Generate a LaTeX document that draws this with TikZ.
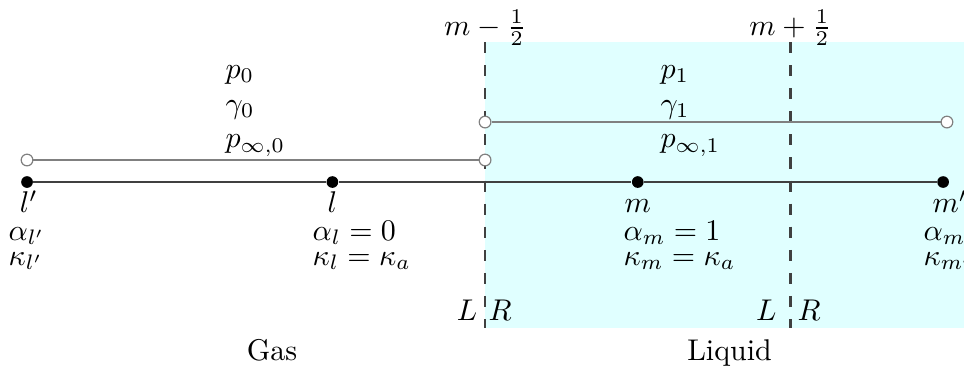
\documentclass[tikz,border=0pt]{standalone}
\usepackage{amsmath}
\usepackage{tikz}

\definecolor{liquidcyan}{RGB}{224,255,255}

\begin{document}
\begin{tikzpicture}[
	c_axis/.style={
		black!75,
		line width=0.7pt
	},
	c_state/.style={
		gray,
		line width=0.4pt
	},
	c_face/.style={
		black!75,
		line width=0.75pt,
		dash pattern=on 3.7pt off 4pt
	},
	c_dot/.style={
		circle,
		fill=black,
		inner sep=0pt,
		minimum size=3.9pt
	},
	c_open/.style={
		circle,
		draw=gray,
		fill=white,
		line width=0.4pt,
		inner sep=0pt,
		minimum size=3.9pt
	},
	c_name/.style={
		inner sep=0pt,
		anchor=base
	},
	c_text/.style={
		inner sep=0pt,
		anchor=base west
	}
	]
	
	% =========================================================================
	% FRAME AND LIQUID REGION
	% =========================================================================
	
	\clip (-0.317,-2.204) rectangle (10.985,2.134);
	
	\fill[liquidcyan]
	(5.37,-1.712) rectangle (11.5,1.641);
	
	% =========================================================================
	% CELL FACES
	% =========================================================================
	
	\coordinate (f0t) at (5.37,1.641);
	\coordinate (f0b) at (5.37,-1.712);
	\coordinate (f1t) at (8.95,1.641);
	\coordinate (f1b) at (8.95,-1.712);
	
	\draw[c_face] (f0t)--(f0b);
	\draw[c_face] (f1t)--(f1b);
	
	\node (hm) at (5.37,1.805) {$m-\frac{1}{2}$};
	\node (hp) at (8.95,1.805) {$m+\frac{1}{2}$};
	
	\node[inner sep=0pt,anchor=base east] (L0) at (5.287,-1.618) {$L$};
	\node[c_text] (R0) at (5.404,-1.618) {$R$};
	\node[inner sep=0pt,anchor=base east] (L1) at (8.793,-1.618) {$L$};
	\node[c_text] (R1) at (9.027,-1.618) {$R$};
	
	% =========================================================================
	% PHASE STATES
	% =========================================================================
	
	\node[c_open] (g0a) at (0,0.258) {};
	\node[c_open] (g0b) at (5.37,0.258) {};
	\draw[c_state] (g0a)--(g0b);
	
	\node[c_open] (g1a) at (5.37,0.703) {};
	\node[c_open] (g1b) at (10.785,0.703) {};
	\draw[c_state] (g1a)--(g1b);
	
	% Gas
	\node[c_text] (p0) at (2.321,1.219) {$p_0$};
	\node[c_text] (gam0) at (2.321,0.809) {$\gamma_0$};
	\node[c_text] (pinf0) at (2.321,0.399) {$p_{\infty,0}$};
	
	% Liquid
	\node[c_text] (p1) at (7.421,1.219) {$p_1$};
	\node[c_text] (gam1) at (7.421,0.809) {$\gamma_1$};
	\node[c_text] (pinf1) at (7.421,0.399) {$p_{\infty,1}$};
	
	% =========================================================================
	% CELL CENTRES
	% =========================================================================
	
	\node[c_dot] (lp) at (0,0) {};
	\node[c_dot] (l) at (3.58,0) {};
	\node[c_dot] (m) at (7.16,0) {};
	\node[c_dot] (mp) at (10.74,0) {};
	
	\draw[c_axis] (lp)--(l)--(m)--(mp);
	
	\node[c_name] (nlp) at (0.02,-0.363) {$l'$};
	\node[c_name] (nl) at (3.58,-0.363) {$l$};
	\node[c_name] (nm) at (7.16,-0.363) {$m$};
	\node[c_name] (nmp) at (10.82,-0.363) {$m'$};
	
	\node[c_text] (alp) at (-0.223,-0.680) {$\alpha_{l'}$};
	\node[c_text] (klp) at (-0.223,-0.973) {$\kappa_{l'}$};
	
	\node[c_text] (al) at (3.341,-0.680) {$\alpha_l=0$};
	\node[c_text] (kl) at (3.341,-0.973) {$\kappa_l=\kappa_a$};
	
	\node[c_text] (am) at (6.987,-0.680) {$\alpha_m=1$};
	\node[c_text] (km) at (6.987,-0.973) {$\kappa_m=\kappa_a$};
	
	\node[c_text] (amp) at (10.504,-0.680) {$\alpha_{m'}$};
	\node[c_text] (kmp) at (10.504,-0.973) {$\kappa_{m'}$};
	
	% =========================================================================
	% PHASE NAMES
	% =========================================================================
	
	\node[c_name] (gas) at (2.872,-2.087) {Gas};
	\node[c_name] (liq) at (8.236,-2.087) {Liquid};
	
\end{tikzpicture}
\end{document}
